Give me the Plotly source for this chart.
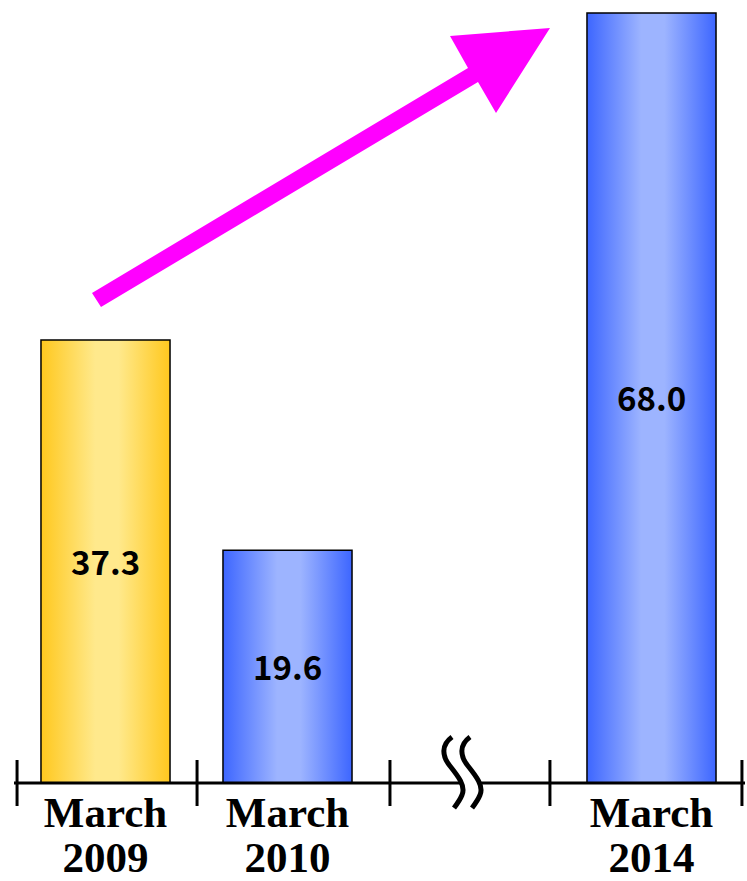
import plotly.graph_objects as go

# ---- data ----
categories = ["March 2009", "March 2010", "March 2014"]
tick_months = ["March", "March", "March"]
tick_years = ["2009", "2010", "2014"]
positions = [0, 1, 3]            # slot 2 is skipped by the axis break
values = [37.3, 19.6, 68.0]
value_labels = ["37.3", "19.6", "68.0"]
value_axis = ["y", "y", "y2"]    # bars after the break use their own scale
edge_colors = ["#FFC81E", "#3D66FF", "#3D66FF"]
mid_colors = ["#FFE98C", "#9DB4FF", "#9DB4FF"]
tick_bounds = [-0.486, 0.503, 1.563, 2.442, 3.497]

W, H = 747, 881
BAR_W = 0.709


def paper(x, y):
    """pixel position -> paper coordinates"""
    return x / W, 1 - y / H


def path(segments, close=False):
    parts = []
    for cmd, pts in segments:
        coords = " ".join("%.5f,%.5f" % paper(*p) for p in pts)
        parts.append(f"{cmd}{coords}")
    s = " ".join(parts)
    return s + (" Z" if close else "")


fig = go.Figure()
annotations = []

# bars as filled outlines so they can carry a horizontal gradient
for cat, p, v, lab, ax, edge, mid in zip(categories, positions, values, value_labels,
                                         value_axis, edge_colors, mid_colors):
    x0, x1 = p - BAR_W / 2, p + BAR_W / 2
    fig.add_trace(go.Scatter(
        x=[x0, x0, x1, x1, x0], y=[0, v, v, 0, 0],
        mode="lines", fill="toself", name=cat, yaxis=ax,
        fillgradient=dict(type="horizontal",
                          colorscale=[[0, edge], [0.42, mid], [0.6, mid], [1, edge]]),
        line=dict(color="black", width=1.5),
        hoverinfo="skip", showlegend=False,
    ))
    # value label centred in the bar
    annotations.append(dict(
        x=p, y=v / 2, xref="x", yref=ax, text=lab, showarrow=False, yshift=1,
        font=dict(family="Noto Sans CJK JP", size=33, color="black", weight="bold"),
    ))

# empty trace to bring the second (year) label axis to life
fig.add_trace(go.Scatter(x=[positions[0]], y=[0], xaxis="x2", mode="markers",
                         marker=dict(opacity=0), hoverinfo="skip", showlegend=False))

shapes = []
# baseline, interrupted at the break symbol
for xa, xb in [(14, 462), (481, 745)]:
    (px0, py0), (px1, py1) = paper(xa, 783), paper(xb, 783)
    shapes.append(dict(type="line", xref="paper", yref="paper",
                       x0=px0, y0=py0, x1=px1, y1=py1,
                       line=dict(color="black", width=3)))
# category separators crossing the baseline
for t in tick_bounds:
    shapes.append(dict(type="line", xref="x", yref="paper",
                       x0=t, x1=t, y0=paper(0, 760)[1], y1=paper(0, 806)[1],
                       line=dict(color="black", width=3)))
# break symbol: two S-curves
for dx in (0, 18):
    seg = [("M", [(452 + dx, 737)]),
           ("C", [(441 + dx, 745), (442 + dx, 756), (450 + dx, 766)]),
           ("C", [(458 + dx, 776), (466 + dx, 786), (462 + dx, 795)]),
           ("C", [(460 + dx, 800), (457 + dx, 804), (454 + dx, 808)])]
    shapes.append(dict(type="path", xref="paper", yref="paper",
                       path=path(seg), line=dict(color="black", width=5)))
# growth arrow
arrow = [(92, 293), (468, 68), (450, 36), (550, 28), (496, 113), (478, 82), (101, 307)]
shapes.append(dict(type="path", xref="paper", yref="paper",
                   path=path([("M", arrow[:1])] + [("L", [pt]) for pt in arrow[1:]],
                             close=True),
                   fillcolor="#FF00FF", line=dict(width=0)))

label_font = dict(family="Liberation Serif", size=43, color="black", weight="bold")
xrange = [-105.5 / 182, (W - 105.5) / 182]

fig.update_layout(
    width=W, height=H,
    margin=dict(l=0, r=0, t=0, b=0),
    paper_bgcolor="white", plot_bgcolor="white",
    shapes=shapes,
    annotations=annotations,
    xaxis=dict(range=xrange, domain=[0, 1], automargin=False,
               showgrid=False, zeroline=False, showline=False, ticks="",
               tickmode="array", tickvals=positions, ticktext=tick_months,
               tickfont=label_font, ticklabelstandoff=0),
    xaxis2=dict(range=xrange, domain=[0, 1], automargin=False, overlaying="x",
                anchor="y", side="bottom",
                showgrid=False, zeroline=False, showline=False, ticks="",
                tickmode="array", tickvals=positions, ticktext=tick_years,
                tickfont=label_font, ticklabelstandoff=45),
    yaxis=dict(domain=[1 - 783 / H, 1], range=[0, 37.3 * 783 / 443], visible=False,
               automargin=False),
    yaxis2=dict(overlaying="y", range=[0, 68.0 * 783 / 770], visible=False,
                automargin=False),
)

fig.write_html("out.html")
